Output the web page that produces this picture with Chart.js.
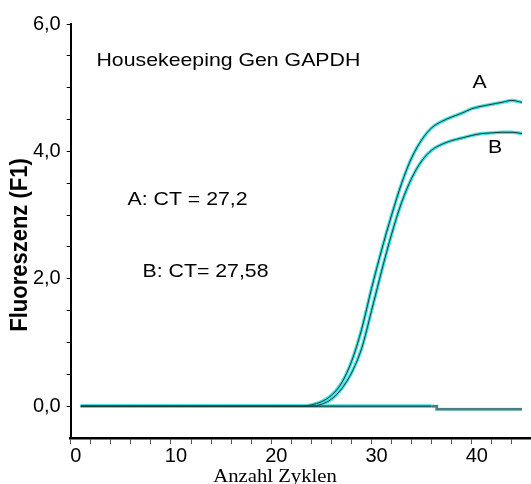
<!DOCTYPE html>
<html>
<head>
<meta charset="utf-8">
<script src="https://cdn.jsdelivr.net/npm/chart.js@4.4.0/dist/chart.umd.min.js"></script>
<style>
  html, body { margin: 0; padding: 0; background: #fff; }
  #wrap { width: 531px; height: 484px; position: relative; }
</style>
</head>
<body>
<div id="wrap"><canvas id="pcrChart"></canvas></div>
<script>
// Data
const cycles = [1, 2, 3, 4, 5, 6, 7, 8, 9, 10, 11, 12, 13, 14, 15, 16, 17, 18, 19, 20, 21, 22, 23,
  24, 25, 26, 27, 28, 29, 30, 31, 32, 33, 34, 35, 36, 37, 38, 39, 40, 41, 42, 43, 44, 45];

const seriesA = [0, 0, 0, 0, 0, 0, 0, 0, 0, 0, 0, 0, 0, 0, 0, 0, 0, 0, 0, 0, 0, 0, 0,
  0.02, 0.07, 0.17, 0.36, 0.7, 1.2, 1.85, 2.45, 3.0, 3.5, 3.9, 4.18, 4.37, 4.47, 4.54, 4.6,
  4.67, 4.71, 4.74, 4.77, 4.8, 4.77];

const seriesB = [0, 0, 0, 0, 0, 0, 0, 0, 0, 0, 0, 0, 0, 0, 0, 0, 0, 0, 0, 0, 0, 0, 0,
  0, 0.03, 0.11, 0.27, 0.52, 0.9, 1.5, 2.12, 2.7, 3.2, 3.58, 3.85, 4.02, 4.11, 4.17, 4.21,
  4.25, 4.28, 4.29, 4.3, 4.3, 4.28];

// negative control / baseline
const seriesNeg = [0, 0, 0, 0, 0, 0, 0, 0, 0, 0, 0, 0, 0, 0, 0, 0, 0, 0, 0, 0, 0, 0, 0,
  0, 0, 0, 0, 0, 0, 0, 0, 0, 0, 0, 0, 0, -0.05, -0.05, -0.05, -0.05, -0.05, -0.05, -0.05, -0.05, -0.05];

const xTicks = [0, 2, 4, 6, 8, 10, 12, 14, 16, 18, 20, 22, 24, 26, 28, 30, 32, 34, 36, 38, 40, 42, 44];
const xLabels = [0, 10, 20, 30, 40];
const yTicks = [0, 0.5, 1, 1.5, 2, 2.5, 3, 3.5, 4, 4.5, 5, 5.5, 6];
const yLabels = [0, 2, 4, 6];

const GLOW = 'rgb(66, 224, 224)';
const DARK = '#1b3a3a';

function pts(vals) {
  return cycles.map((c, i) => ({ x: c, y: vals[i] }));
}

// Text drawn on top of the chart (labels + axis titles)
const textPlugin = {
  id: 'textPlugin',
  afterDraw(chart) {
    const ctx = chart.ctx;
    function put(txt, x, y, font, sx, align) {
      ctx.save();
      ctx.translate(x, y);
      ctx.scale(sx, 1);
      ctx.font = font;
      ctx.fillStyle = '#000';
      ctx.textAlign = align || 'left';
      ctx.textBaseline = 'alphabetic';
      ctx.fillText(txt, 0, 0);
      ctx.restore();
    }
    const f = '19px "Liberation Sans", Arial, sans-serif';
    put('Housekeeping Gen GAPDH', 96.5, 66, f, 1.12);
    put('A: CT = 27,2', 127.5, 205, f, 1.12);
    put('B: CT= 27,58', 142.5, 277, f, 1.12);
    put('A', 472.5, 88, f, 1.12);
    put('B', 488, 152.5, f, 1.12);
    put('Anzahl Zyklen', 275, 482, '18px "Liberation Serif", "Times New Roman", serif', 1.15, 'center');

    // y axis title, rotated
    ctx.save();
    ctx.translate(27, 245);
    ctx.scale(1.1, 1);
    ctx.rotate(-Math.PI / 2);
    ctx.font = 'bold 22px "Liberation Sans", Arial, sans-serif';
    ctx.fillStyle = '#000';
    ctx.textAlign = 'center';
    ctx.textBaseline = 'alphabetic';
    ctx.fillText('Fluoreszenz (F1)', 0, 0);
    ctx.restore();
  }
};

new Chart(document.getElementById('pcrChart'), {
  type: 'line',
  data: {
    datasets: [
      { data: pts(seriesA), borderColor: DARK, borderWidth: 1, cubicInterpolationMode: 'monotone' },
      { data: pts(seriesB), borderColor: DARK, borderWidth: 1, cubicInterpolationMode: 'monotone' },
      {
        data: pts(seriesNeg), borderColor: DARK, borderWidth: 1.2, stepped: 'middle',
        segment: {
          borderColor: c => c.p0.parsed.x >= 36 ? '#4a7f82' : DARK,
          borderWidth: c => c.p0.parsed.x >= 36 ? 2.5 : 1.2
        }
      },
      { data: pts(seriesA), borderColor: GLOW, borderWidth: 3.4, cubicInterpolationMode: 'monotone' },
      { data: pts(seriesB), borderColor: GLOW, borderWidth: 3.4, cubicInterpolationMode: 'monotone' },
      {
        data: pts(seriesNeg), borderColor: GLOW, borderWidth: 3.6, stepped: 'middle',
        segment: { borderColor: c => c.p0.parsed.x >= 36 ? 'rgba(120,220,220,0.5)' : GLOW }
      }
    ]
  },
  options: {
    responsive: true,
    maintainAspectRatio: false,
    animation: false,
    devicePixelRatio: 1,
    elements: { point: { radius: 0 } },
    layout: { padding: { top: 24, right: 0, bottom: 0, left: 0 } },
    plugins: { legend: { display: false }, tooltip: { enabled: false } },
    scales: {
      x: {
        type: 'linear',
        min: 0,
        max: 45.9,
        afterBuildTicks: s => { s.ticks = xTicks.map(v => ({ value: v })); },
        afterFit: s => { s.height = 46; },
        ticks: {
          autoSkip: false,
          maxRotation: 0,
          padding: 0,
          labelOffset: 5,
          color: '#000',
          font: { family: '"Liberation Sans", Arial, sans-serif', size: 20 },
          callback: v => xLabels.includes(v) ? String(v) : ''
        },
        grid: { drawOnChartArea: false, tickLength: 6, color: '#555', tickWidth: 1 },
        border: { color: '#000', width: 2.5 }
      },
      y: {
        type: 'linear',
        min: -0.5,
        max: 6,
        afterBuildTicks: s => { s.ticks = yTicks.map(v => ({ value: v })); },
        afterFit: s => { s.width = 70.7; },
        ticks: {
          autoSkip: false,
          padding: 6,
          color: '#000',
          font: { family: '"Liberation Sans", Arial, sans-serif', size: 20 },
          callback: v => yLabels.includes(v) ? v.toFixed(1).replace('.', ',') : ''
        },
        grid: { drawOnChartArea: false, tickLength: 4, color: '#000', tickWidth: 1 },
        border: { color: '#000', width: 2 }
      }
    }
  },
  plugins: [textPlugin]
});
</script>
</body>
</html>
